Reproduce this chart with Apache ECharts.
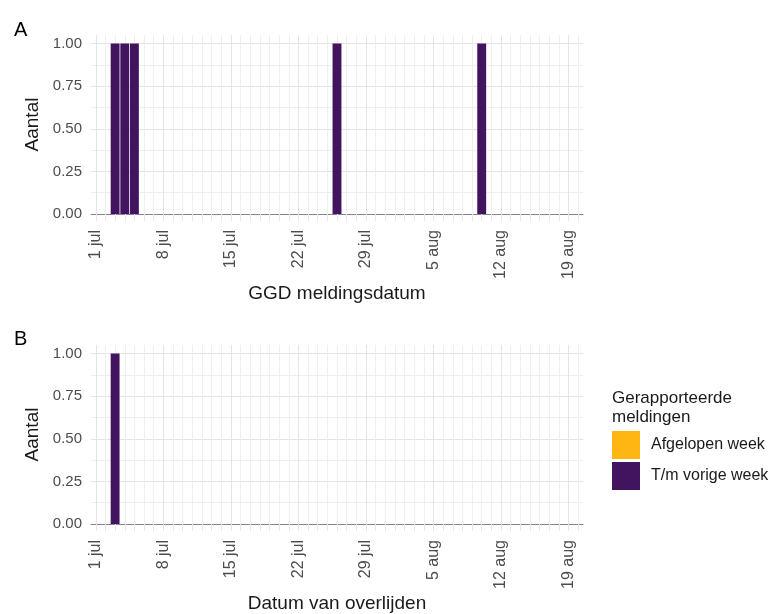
<!DOCTYPE html>
<html lang="nl">
<head>
    <meta charset="UTF-8">
    <title>Meldingen</title>
    <script src="https://cdn.jsdelivr.net/npm/echarts@6/dist/echarts.min.js"></script>
    <style>
        html, body {
            margin: 0;
            padding: 0;
            background: #fff;
        }
        #chart {
            width: 771px;
            height: 614px;
        }
    </style>
</head>
<body>
<div id="chart"></div>
<script>
    // dagen 1 jul t/m 20 aug
    var days = [
        '1 jul', '2 jul', '3 jul', '4 jul', '5 jul', '6 jul', '7 jul', '8 jul', '9 jul', '10 jul',
        '11 jul', '12 jul', '13 jul', '14 jul', '15 jul', '16 jul', '17 jul', '18 jul', '19 jul', '20 jul',
        '21 jul', '22 jul', '23 jul', '24 jul', '25 jul', '26 jul', '27 jul', '28 jul', '29 jul', '30 jul',
        '31 jul', '1 aug', '2 aug', '3 aug', '4 aug', '5 aug', '6 aug', '7 aug', '8 aug', '9 aug',
        '10 aug', '11 aug', '12 aug', '13 aug', '14 aug', '15 aug', '16 aug', '17 aug', '18 aug', '19 aug',
        '20 aug'
    ];

    // A: GGD meldingsdatum
    var meldingPrev = [
        0, 0, 1, 1, 1, 0, 0, 0, 0, 0,
        0, 0, 0, 0, 0, 0, 0, 0, 0, 0,
        0, 0, 0, 0, 0, 1, 0, 0, 0, 0,
        0, 0, 0, 0, 0, 0, 0, 0, 0, 0,
        1, 0, 0, 0, 0, 0, 0, 0, 0, 0,
        0
    ];
    var meldingLast = [
        0, 0, 0, 0, 0, 0, 0, 0, 0, 0,
        0, 0, 0, 0, 0, 0, 0, 0, 0, 0,
        0, 0, 0, 0, 0, 0, 0, 0, 0, 0,
        0, 0, 0, 0, 0, 0, 0, 0, 0, 0,
        0, 0, 0, 0, 0, 0, 0, 0, 0, 0,
        0
    ];

    // B: datum van overlijden
    var overlijdenPrev = [
        0, 0, 1, 0, 0, 0, 0, 0, 0, 0,
        0, 0, 0, 0, 0, 0, 0, 0, 0, 0,
        0, 0, 0, 0, 0, 0, 0, 0, 0, 0,
        0, 0, 0, 0, 0, 0, 0, 0, 0, 0,
        0, 0, 0, 0, 0, 0, 0, 0, 0, 0,
        0
    ];
    var overlijdenLast = [
        0, 0, 0, 0, 0, 0, 0, 0, 0, 0,
        0, 0, 0, 0, 0, 0, 0, 0, 0, 0,
        0, 0, 0, 0, 0, 0, 0, 0, 0, 0,
        0, 0, 0, 0, 0, 0, 0, 0, 0, 0,
        0, 0, 0, 0, 0, 0, 0, 0, 0, 0,
        0
    ];

    var yTicks = [0, 0.25, 0.5, 0.75, 1];

    var purple = '#42145f';
    var orange = '#ffb612';
    var font = 'Liberation Sans, Arial, sans-serif';

    function xAxisFor(gridIndex, title) {
        return {
            type: 'category',
            gridIndex: gridIndex,
            data: days,
            boundaryGap: true,
            name: title,
            nameLocation: 'middle',
            nameGap: 70,
            nameTextStyle: {color: '#1a1a1a', fontSize: 19, fontFamily: font},
            axisLine: {show: true, lineStyle: {color: '#8a7f9b', width: 1}},
            axisTick: {show: true, interval: 0, alignWithLabel: true, length: 7,
                lineStyle: {color: '#e6e6e6'}},
            axisLabel: {interval: 6, rotate: 90, margin: 16, color: '#4d4d4d',
                fontSize: 16, fontFamily: font},
            splitLine: {show: true, interval: 0, alignWithLabel: true,
                lineStyle: {width: 1, color: ['#e4e4e4', '#efefef', '#efefef', '#efefef',
                    '#efefef', '#efefef', '#efefef']}}
        };
    }

    function yAxisFor(gridIndex) {
        return {
            type: 'value',
            gridIndex: gridIndex,
            min: 0,
            max: 1.05,
            interval: 0.125,
            name: 'Aantal',
            nameLocation: 'middle',
            nameGap: 45,
            nameTextStyle: {color: '#1a1a1a', fontSize: 19, fontFamily: font},
            axisLine: {show: false},
            axisTick: {show: false},
            axisLabel: {
                margin: 9, color: '#4d4d4d', fontSize: 15, fontFamily: font,
                formatter: function (v) {
                    for (var i = 0; i < yTicks.length; i++) {
                        if (Math.abs(v - yTicks[i]) < 1e-6) return yTicks[i].toFixed(2);
                    }
                    return '';
                }
            },
            splitLine: {show: true, showMaxLine: false,
                lineStyle: {width: 1, color: ['#e4e4e4', '#efefef']}}
        };
    }

    var chart = echarts.init(document.getElementById('chart'), null, {renderer: 'canvas'});
    chart.setOption({
        animation: false,
        backgroundColor: '#fff',
        textStyle: {fontFamily: font},
        title: [
            {text: 'A', left: 9, top: 15, textStyle: {fontSize: 20, fontWeight: 'normal', color: '#000'}},
            {text: 'B', left: 9, top: 324, textStyle: {fontSize: 20, fontWeight: 'normal', color: '#000'}},
            {text: 'Gerapporteerde\nmeldingen', left: 607, top: 384,
                textStyle: {fontSize: 17, fontWeight: 'normal', color: '#1a1a1a', lineHeight: 19}}
        ],
        legend: {
            orient: 'vertical',
            left: 612,
            top: 431,
            padding: 0,
            itemWidth: 28,
            itemHeight: 28,
            itemGap: 3,
            icon: 'rect',
            data: ['Afgelopen week', 'T/m vorige week'],
            textStyle: {fontSize: 16, color: '#1a1a1a', padding: [0, 0, 0, 6]}
        },
        grid: [
            {left: 91, top: 35, width: 492, height: 179},
            {left: 91, top: 345, width: 492, height: 179}
        ],
        xAxis: [xAxisFor(0, 'GGD meldingsdatum'), xAxisFor(1, 'Datum van overlijden')],
        yAxis: [yAxisFor(0), yAxisFor(1)],
        series: [
            {name: 'T/m vorige week', type: 'bar', xAxisIndex: 0, yAxisIndex: 0, stack: 'a',
                barCategoryGap: '8%', itemStyle: {color: purple}, data: meldingPrev},
            {name: 'Afgelopen week', type: 'bar', xAxisIndex: 0, yAxisIndex: 0, stack: 'a',
                barCategoryGap: '8%', itemStyle: {color: orange}, data: meldingLast},
            {name: 'T/m vorige week', type: 'bar', xAxisIndex: 1, yAxisIndex: 1, stack: 'b',
                barCategoryGap: '8%', itemStyle: {color: purple}, data: overlijdenPrev},
            {name: 'Afgelopen week', type: 'bar', xAxisIndex: 1, yAxisIndex: 1, stack: 'b',
                barCategoryGap: '8%', itemStyle: {color: orange}, data: overlijdenLast}
        ]
    });
</script>
</body>
</html>
